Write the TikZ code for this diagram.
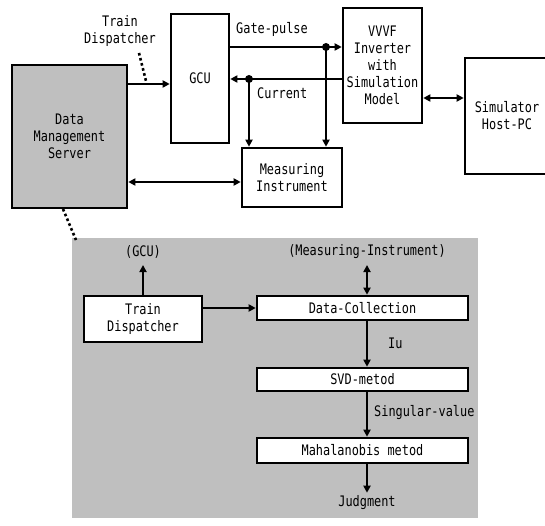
\documentclass[tikz,border=0pt]{standalone}
\usepackage{fontspec}
\setmonofont[FakeStretch=0.82]{DejaVu Sans Mono}
\usetikzlibrary{arrows.meta}
\usetikzlibrary{calc}
\tikzset{box/.style={draw,line width=2.6pt,inner sep=0pt,align=center},
	graybox/.style={box,fill=black!25},
	arr/.style={line width=2pt,-{Triangle[length=7pt,width=7pt]}},
	biarr/.style={line width=2pt,{Triangle[length=7pt,width=7pt]}-{Triangle[length=7pt,width=7pt]}},
	dots/.style={line width=2.6pt,dash pattern=on 2.6pt off 2.6pt},
	lbl/.style={inner sep=0pt,align=center}}
\begin{document}
\begin{tikzpicture}[x=1pt,y=-1pt,font=\ttfamily\fontsize{14.5}{17}\selectfont]
	\useasboundingbox (0,0) rectangle (545,526);
	% upper part
	\node[graybox,minimum width=115,minimum height=143] (DMS) at (69.5,136.5) {Data\\Management\\Server};
	\node[box,minimum width=58,minimum height=129] (GCU) at (200,78.5) {GCU};
	\node[box,minimum width=79,minimum height=115] (VVVF) at (382.5,65.5) {VVVF\\Inverter\\with\\Simulation\\Model};
	\node[box,minimum width=100,minimum height=59] (MI) at (292,177.5) {Measuring\\Instrument};
	\node[box,minimum width=84,minimum height=116] (SIM) at (507,116) {Simulator\\Host-PC};
	\node[lbl] (TDlbl) at (120,31) {Train\\Dispatcher};
	\node[lbl,anchor=west] (GPlbl) at (236,29) {Gate-pulse};
	\node[lbl,anchor=west] (CUlbl) at (257,93) {Current};
	\coordinate (gp) at (326,47);
	\coordinate (cu) at (249,79);
	\coordinate (tdin) at (171,84);
	\coordinate (mid) at (0,182);
	\coordinate (sim) at (0,98);
	\draw[arr] (DMS.east |- tdin) -- (GCU.west |- tdin);
	\draw[arr] (GCU.east |- gp) -- (VVVF.west |- gp);
	\draw[arr] (VVVF.west |- cu) -- (GCU.east |- cu);
	\draw[arr] (gp) -- (gp |- MI.north);
	\draw[arr] (cu) -- (cu |- MI.north);
	\fill (gp) circle (4);
	\fill (cu) circle (4);
	\draw[biarr] (DMS.east |- mid) -- (MI.west |- mid);
	\draw[biarr] (VVVF.east |- sim) -- (SIM.west |- sim);
	\coordinate (tdA) at (139,53);
	\coordinate (tdB) at (146,81);
	\draw[dots] (tdA) -- (tdB);
	% lower part
	\fill[black!25] (72,238) rectangle (478,518);
	\coordinate (dmsA) at (63,209);
	\coordinate (dmsB) at (76,240);
	\draw[dots] (dmsA) -- (dmsB);
	\node[box,fill=white,minimum width=118,minimum height=46] (TD) at (143,319) {Train\\Dispatcher};
	\node[box,fill=white,minimum width=211,minimum height=24] (DC) at (362.5,308) {Data-Collection};
	\node[box,fill=white,minimum width=211,minimum height=23] (SVD) at (362.5,379.5) {SVD-metod};
	\node[box,fill=white,minimum width=211,minimum height=25] (MAH) at (362.5,450.5) {Mahalanobis metod};
	\node[lbl] (GCUref) at (143,252) {(GCU)};
	\node[lbl] (MIref) at (367,252) {(Measuring-Instrument)};
	\node[lbl] (JDG) at (367,503) {Judgment};
	\node[lbl,anchor=west] (IUlbl) at (388,343) {Iu};
	\node[lbl,anchor=west] (SVlbl) at (374,413) {Singular-value};
	\coordinate (col) at (367,265);
	\draw[arr] (TD.north) -- (TD.north |- col);
	\draw[arr] (TD.east |- DC.west) -- (DC.west);
	\draw[biarr] (DC.north -| col) -- (col);
	\draw[arr] (DC.south -| col) -- (SVD.north -| col);
	\draw[arr] (SVD.south -| col) -- (MAH.north -| col);
	\draw[arr] (MAH.south -| col) -- ($(JDG.north)+(0,-3)$);
\end{tikzpicture}
\end{document}
